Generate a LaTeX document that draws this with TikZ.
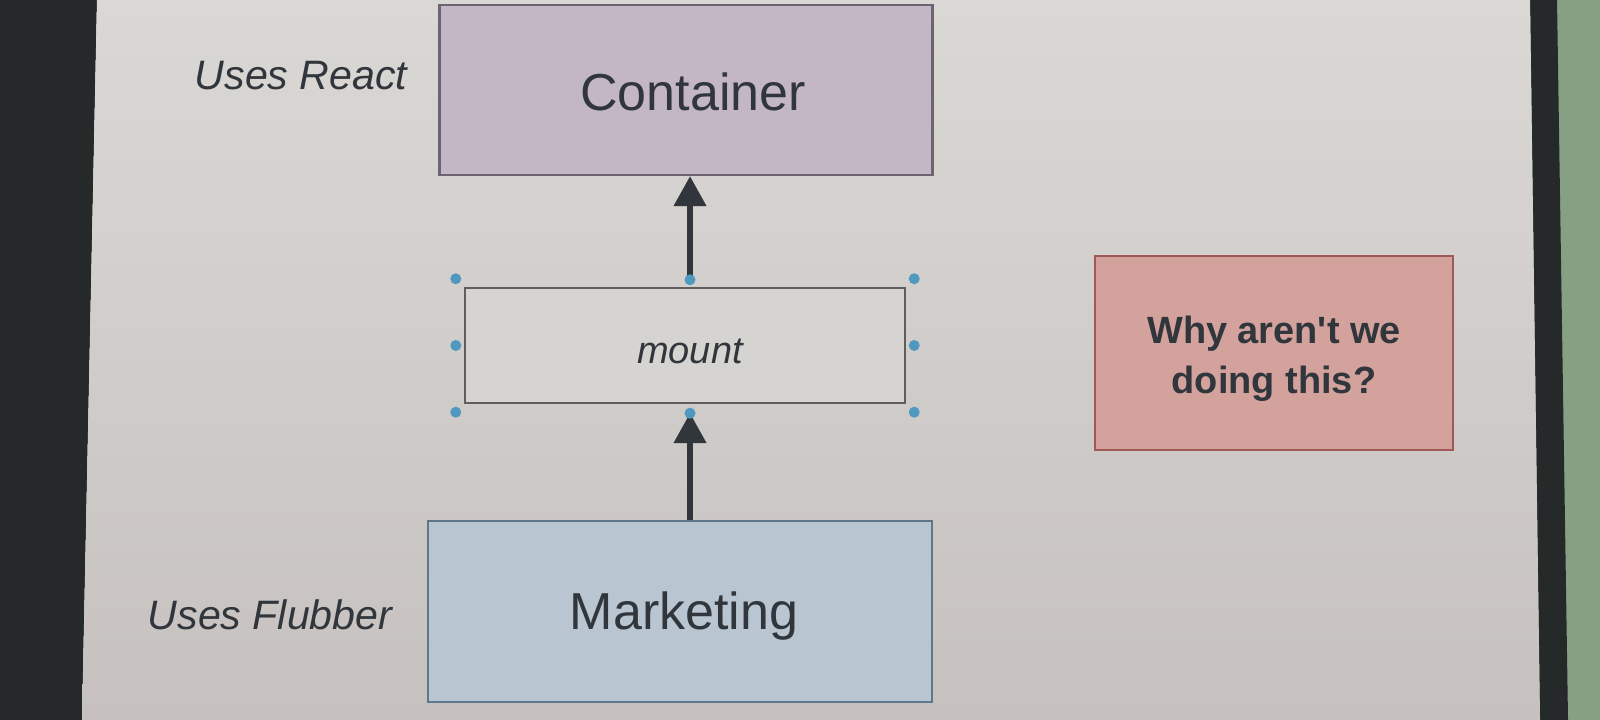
\documentclass[tikz,border=0pt]{standalone}
\usepackage{fontspec}
\setmainfont{Liberation Sans}
\usetikzlibrary{arrows.meta}
\definecolor{ink}{HTML}{30363C}
\definecolor{screen_top}{HTML}{DAD8D5}
\definecolor{screen_bottom}{HTML}{C6C1BE}
\definecolor{bezel}{HTML}{25292A}
\definecolor{wall}{HTML}{86A083}
\definecolor{container_fill}{HTML}{C3B7C6}
\definecolor{container_line}{HTML}{6C6470}
\definecolor{mount_fill}{HTML}{D6D4D0}
\definecolor{mount_line}{HTML}{5E5E5E}
\definecolor{marketing_fill}{HTML}{B9C5D0}
\definecolor{marketing_line}{HTML}{60768A}
\definecolor{question_fill}{HTML}{D4A29D}
\definecolor{question_line}{HTML}{A05A55}
\definecolor{handle_blue}{HTML}{4F98C0}
\begin{document}
\begin{tikzpicture}[
		box/.style={rectangle, draw, line width=0.7pt, inner sep=0pt},
		box_text/.style={inner sep=0pt, text=ink},
		up_arrow/.style={draw=ink, line width=1.5pt, -{Triangle[width=9pt, length=8.5pt]}},
		handle/.style={circle, fill=handle_blue, inner sep=0pt, minimum size=1.1mm},
		side_label/.style={font=\fontsize{11.7pt}{14pt}\selectfont\itshape, text=ink, inner sep=0pt}
	]
  \useasboundingbox (0cm, 0cm) rectangle (16cm, 7.2cm);
  % monitor, screen and wall behind
  \fill[wall] (15.3cm, 0cm) rectangle (16cm, 7.2cm);
  \fill[bezel] (0cm, 0cm) -- (0.82cm, 0cm) -- (0.97cm, 7.2cm) -- (0cm, 7.2cm) -- cycle;
  \fill[bezel] (15.3cm, 7.2cm) -- (15.57cm, 7.2cm) -- (15.68cm, 0cm) -- (15.4cm, 0cm) -- cycle;
  \shade[top color=screen_top, bottom color=screen_bottom] (0.82cm, 0cm) -- (0.97cm, 7.2cm) -- (15.3cm, 7.2cm) -- (15.4cm, 0cm) -- cycle;

  \node (container) [box, fill=container_fill, draw=container_line, minimum width=4.93cm, minimum height=1.7cm] at (6.86cm, 6.3cm) {};
  \node (mount) [box, fill=mount_fill, draw=mount_line, minimum width=4.4cm, minimum height=1.15cm] at (6.85cm, 3.745cm) {};
  \node (marketing) [box, fill=marketing_fill, draw=marketing_line, minimum width=5.04cm, minimum height=1.81cm] at (6.8cm, 1.085cm) {};
  \node (question) [box, fill=question_fill, draw=question_line, minimum width=3.58cm, minimum height=1.94cm] at (12.74cm, 3.67cm) {};

  \node (container_text) [box_text, font=\fontsize{14.8pt}{17pt}\selectfont] at ([xshift=0.07cm, yshift=-0.02cm]container.center) {Container};
  \node (mount_text) [box_text, font=\fontsize{10.8pt}{13pt}\selectfont\itshape] at ([xshift=0.05cm, yshift=-0.06cm]mount.center) {mount};
  \node (marketing_text) [box_text, font=\fontsize{14.8pt}{17pt}\selectfont] at ([xshift=0.04cm, yshift=-0.05cm]marketing.center) {Marketing};
  \node (question_text) [box_text, align=center, font=\fontsize{10.8pt}{14.2pt}\selectfont\bfseries] at ([yshift=-0.06cm]question.center) {Why aren\textquotesingle t we\\doing this?};

  \node (react_label) [side_label, anchor=east] at (4.08cm, 6.44cm) {Uses React};
  \node (flubber_label) [side_label, anchor=east] at (3.93cm, 1.05cm) {Uses Flubber};

  \coordinate (mount_in) at ([xshift=0.05cm, yshift=-0.09cm]mount.south);
  \coordinate (mount_out) at ([xshift=0.05cm, yshift=0.07cm]mount.north);
  \draw[up_arrow] (mount_out) -- (mount_out |- container.south);
  \draw[up_arrow] (mount_in |- marketing.north) -- (mount_in);

  % selection handles round mount
  \foreach \a/\dx/\dy [count=\i] in {north west/-1/1, west/-1/0, south west/-1/-1,
      north east/1/1, east/1/0, south east/1/-1}
    \node (handle_\i) [handle] at ([shift={(\dx*0.08cm, \dy*0.08cm)}]mount.\a) {};
  \node (handle_top) [handle] at (mount_out) {};
  \node (handle_bottom) [handle] at (mount_in) {};
\end{tikzpicture}
\end{document}
